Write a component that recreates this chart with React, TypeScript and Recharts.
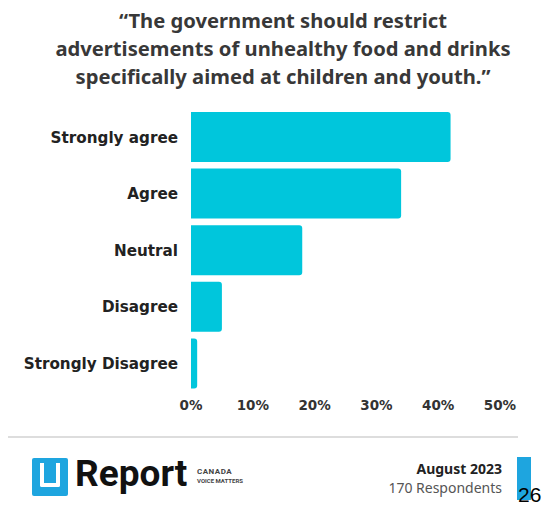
import { BarChart, Bar, XAxis, YAxis } from "recharts";

const CATEGORIES = ["Strongly agree", "Agree", "Neutral", "Disagree", "Strongly Disagree"];
const PERCENTS = [42, 34, 18, 5, 1];
const X_TICKS = [0, 10, 20, 30, 40, 50];
const TITLE_LINES = [
  "\u201CThe government should restrict",
  "advertisements of unhealthy food and drinks",
  "specifically aimed at children and youth.\u201D",
];

const data = CATEGORIES.map((name, i) => ({ name, value: PERCENTS[i] }));

const BAR_COLOR = "#00c6dc";
const BRAND_BLUE = "#1ea5df";
const FONT = "'Noto Sans', 'Open Sans', sans-serif";
const LABEL_FONT = "'DejaVu Sans', sans-serif";

export default function App() {
  return (
    <div style={{ position: "absolute", left: 0, top: 0, width: 555, height: 512, background: "#fff", fontFamily: FONT, overflow: "hidden" }}>
      {/* title */}
      <div style={{ position: "absolute", left: 0, top: 6, width: 566, textAlign: "center", color: "#383838", fontWeight: 700, fontSize: 20.2, lineHeight: "28px" }}>
        {TITLE_LINES.map((t) => (
          <div key={t}>{t}</div>
        ))}
      </div>

      <div style={{ position: "absolute", left: 0, top: 100 }}>
        <BarChart width={555} height={320} data={data} layout="vertical" margin={{ top: 9, right: 55, bottom: 0, left: 0 }} barSize={50}>
          <XAxis type="number" domain={[0, 50]} ticks={X_TICKS} tickFormatter={(v) => `${v}%`}
            axisLine={false} tickLine={false} interval={0} height={28}
            tick={{ fill: "#333", fontSize: 13.5, fontWeight: 700, fontFamily: LABEL_FONT }} />
          <YAxis type="category" dataKey="name" width={191} axisLine={false} tickLine={false} tickMargin={7}
            tick={{ fill: "#222", fontSize: 15.2, fontWeight: 700, fontFamily: LABEL_FONT }} />
          <Bar dataKey="value" fill={BAR_COLOR} radius={[0, 3, 3, 0]} isAnimationActive={false} />
        </BarChart>
      </div>

      {/* footer */}
      <div style={{ position: "absolute", left: 8, top: 436, width: 510, height: 2, background: "#ddd" }} />
      <div style={{ position: "absolute", left: 32, top: 458, width: 36, height: 38, background: BRAND_BLUE, borderRadius: 2 }}>
        <div style={{ position: "absolute", left: 8, top: 5, width: 12, height: 20, border: "4px solid #fff", borderTop: "none", borderRadius: "0 0 2px 2px" }} />
      </div>
      <div style={{ position: "absolute", left: 75, top: 452, fontFamily: "Roboto, sans-serif", fontWeight: 700, fontSize: 37, color: "#111", lineHeight: "44px" }}>Report</div>
      <div style={{ position: "absolute", left: 197, top: 467, fontFamily: "Roboto, sans-serif", fontWeight: 700, color: "#444", lineHeight: "9px" }}>
        <div style={{ fontSize: 8, letterSpacing: 0.5 }}>CANADA</div>
        <div style={{ fontSize: 6 }}>VOICE MATTERS</div>
      </div>
      <div style={{ position: "absolute", right: 53, top: 459, textAlign: "right", lineHeight: "19px" }}>
        <div style={{ fontWeight: 700, fontSize: 14, color: "#222" }}>August 2023</div>
        <div style={{ fontSize: 14, color: "#555" }}>170 Respondents</div>
      </div>
      <div style={{ position: "absolute", left: 517, top: 457, width: 14, height: 43, background: BRAND_BLUE }} />
      <div style={{ position: "absolute", left: 518, top: 483, fontFamily: "'Liberation Sans', Arial, sans-serif", fontSize: 21, color: "#000", lineHeight: "24px" }}>26</div>
    </div>
  );
}
